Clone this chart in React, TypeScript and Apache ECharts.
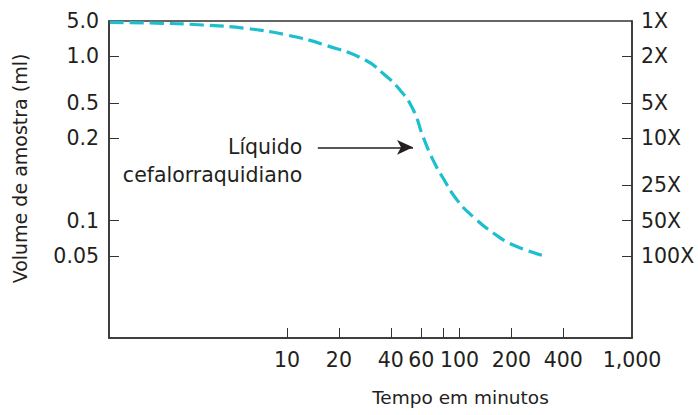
import React, { useEffect, useRef } from "react";
import * as echarts from "echarts";

// Curve: time (minutes) vs dilution factor
const timeMinutes = [0.94, 1.9, 3.26, 5.71, 10.0, 17.1, 28.4, 36.1, 45.2, 53.8, 61.5, 70.3, 80.3, 96.8, 120, 157, 205, 322];
const dilutionFactor = [1.03, 1.046, 1.082, 1.154, 1.316, 1.623, 2.15, 2.8, 3.87, 5.65, 9.66, 15.3, 21.7, 33.4, 46.4, 63.8, 80.8, 101.6];

// X axis
const xTickValues = [10, 20, 40, 60, 80, 100, 200, 400];
const xLabelValues = [10, 20, 40, 60, 100, 200, 400, 1000];
const xLabelTexts = ["10", "20", "40", "60", "100", "200", "400", "1,000"];

// Right axis (dilution)
const dilutionTickValues = [1, 2, 5, 10, 25, 50, 100];
const dilutionLabels = ["1X", "2X", "5X", "10X", "25X", "50X", "100X"];

// Left axis (sample volume)
const volumeTickValues = [1, 2, 5, 10, 50, 100];
const volumeLabels = ["5.0", "1.0", "0.5", "0.2", "0.1", "0.05"];

// Annotation
const annotationText = "Líquido\ncefalorraquidiano";
const arrowStart = [15.1, 11.9];
const arrowEnd = [53.8, 11.9];

const FONT = "DejaVu Sans";
const TXT = "#231f20";
const AX = "#333333";

function labelFor(values: number[], texts: string[], v: number) {
  for (let i = 0; i < values.length; i++) {
    if (Math.abs(values[i] - v) / values[i] < 0.01) return texts[i];
  }
  return "";
}

export default function App() {
  const ref = useRef<HTMLDivElement>(null);
  useEffect(() => {
    if (!ref.current) return;
    const chart = echarts.init(ref.current, undefined, { renderer: "svg" });
    const data = timeMinutes.map((t, i) => [t, dilutionFactor[i]]);
    chart.setOption({
      animation: false,
      textStyle: { fontFamily: FONT },
      grid: {
        left: 109,
        top: 21,
        right: 66,
        bottom: 77,
        show: true,
        borderColor: AX,
        borderWidth: 1.5,
        backgroundColor: "transparent",
      },
      xAxis: {
        type: "log",
        min: 0.93,
        max: 1000,
        name: "Tempo em minutos",
        nameLocation: "middle",
        nameGap: 50,
        nameTextStyle: { fontSize: 18.5, color: TXT, fontFamily: FONT, padding: [0, 0, 0, 180] },
        axisLine: { show: true, lineStyle: { color: AX, width: 1.5 } },
        axisTick: { show: true, inside: true, length: 10, customValues: xTickValues, lineStyle: { color: AX, width: 1 } },
        axisLabel: {
          customValues: xLabelValues,
          margin: 11,
          fontSize: 20.5,
          color: TXT,
          fontFamily: FONT,
          formatter: (v: number) => labelFor(xLabelValues, xLabelTexts, v),
        },
        splitLine: { show: false },
        minorTick: { show: false },
      },
      yAxis: [
        {
          type: "log",
          inverse: true,
          min: 1,
          max: 500,
          position: "left",
          name: "Volume de amostra (ml)",
          nameLocation: "middle",
          nameGap: 80,
          nameTextStyle: { fontSize: 19, color: TXT, fontFamily: FONT, padding: [0, 0, 0, 22] },
          axisLine: { show: true, lineStyle: { color: AX, width: 1.5 } },
          axisTick: { show: true, inside: true, length: 10, customValues: volumeTickValues.slice(1), lineStyle: { color: AX, width: 1 } },
          axisLabel: {
            customValues: volumeTickValues,
            margin: 10,
            fontSize: 20.5,
            color: TXT,
            fontFamily: FONT,
            formatter: (v: number) => labelFor(volumeTickValues, volumeLabels, v),
          },
          splitLine: { show: false },
        },
        {
          type: "log",
          inverse: true,
          min: 1,
          max: 500,
          position: "right",
          axisLine: { show: true, lineStyle: { color: AX, width: 1.5 } },
          axisTick: { show: true, inside: true, length: 10, customValues: dilutionTickValues.slice(1), lineStyle: { color: AX, width: 1 } },
          axisLabel: {
            customValues: dilutionTickValues,
            margin: 9,
            fontSize: 20.5,
            color: TXT,
            fontFamily: FONT,
            formatter: (v: number) => labelFor(dilutionTickValues, dilutionLabels, v),
          },
          splitLine: { show: false },
        },
      ],
      series: [
        {
          type: "line",
          data,
          smooth: true,
          showSymbol: false,
          symbol: "none",
          lineStyle: { color: "#1cbfcd", width: 3.2, type: [14, 6] },
          clip: true,
          markLine: {
            silent: true,
            symbol: ["none", "arrow"],
            symbolSize: [11, 16],
            label: { show: false },
            lineStyle: { color: TXT, width: 1.5, type: "solid" },
            data: [[{ coord: arrowStart }, { coord: arrowEnd }]],
          },
          markPoint: {
            silent: true,
            symbol: "circle",
            symbolSize: 1,
            itemStyle: { color: "transparent" },
            label: {
              show: true,
              position: "left",
              distance: 15,
              offset: [0, 14],
              formatter: annotationText,
              fontSize: 20.5,
              lineHeight: 28,
              align: "right",
              color: TXT,
              fontFamily: FONT,
            },
            data: [{ coord: arrowStart }],
          },
        },
      ],
    });
    return () => chart.dispose();
  }, []);
  return <div ref={ref} style={{ width: 698, height: 415, position: "absolute", left: 0, top: 0 }} />;
}
